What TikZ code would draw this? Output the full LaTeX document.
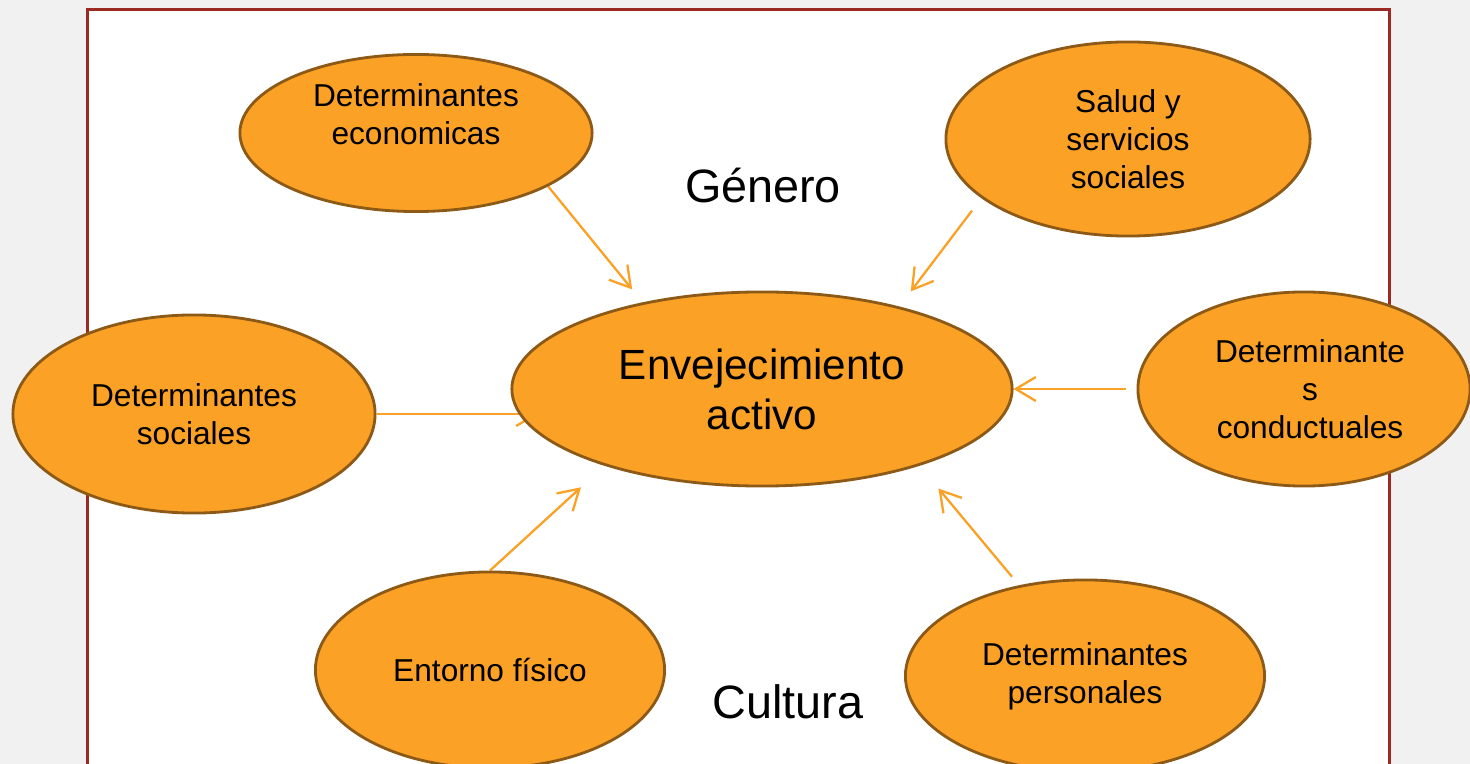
\documentclass[tikz,border=0pt]{standalone}
\usepackage{fontspec}
\setmainfont{Liberation Sans}
\usepackage{xcolor}
\usepackage{tikz}
\usetikzlibrary{positioning,shapes.geometric,arrows.meta}

\definecolor{paper}{HTML}{F1F1F1}
\definecolor{frame}{HTML}{9B2B22}
\definecolor{bubblefill}{HTML}{FAA126}
\definecolor{bubbleedge}{HTML}{8C5A16}

\pgfdeclarelayer{back}
\pgfdeclarelayer{links}
\pgfsetlayers{back,links,main}

\tikzset{
	bubble/.style={ellipse,fill=bubblefill,draw=bubbleedge,line width=0.8pt,inner sep=0pt,align=center,font=\fontsize{9}{10.8}\selectfont},
	link/.style={draw=bubblefill,line width=0.65pt,-{Straight Barb[length=0.2cm,width=0.24cm]}},
	word/.style={font=\fontsize{13.3}{16}\selectfont},
}

\begin{document}
\begin{tikzpicture}[x=0.01cm,y=-0.01cm]
		\useasboundingbox (0,0) rectangle (1470,764);
		\clip (0,0) rectangle (1470,764);
		\begin{pgfonlayer}{back}
			\fill[paper] (0,0) rectangle (1470,764);
			\draw[frame,fill=white,line width=0.03cm] (87,10) rectangle (1389,800);
		\end{pgfonlayer}

		\node[bubble,minimum width=5cm,minimum height=1.94cm,font=\fontsize{12}{14.2}\selectfont] (activo) at (762,389) {Envejecimiento\\activo};
		\node[bubble,minimum width=3.52cm,minimum height=1.57cm] (economicas) at (416,133) {Determinantes\\economicas\\\mbox{}};
		\node[bubble,minimum width=3.64cm,minimum height=1.94cm] (salud) at (1128,139) {Salud y\\servicios\\sociales};
		\node[bubble,minimum width=3.62cm,minimum height=1.98cm] (sociales) at (194,414) {Determinantes\\sociales};
		\node[bubble,minimum width=3.32cm,minimum height=1.94cm] (conductuales) at (1304,389) {\hspace*{0.12cm}Determinante\\\hspace*{0.12cm}s\\\hspace*{0.12cm}conductuales};
		\node[bubble,minimum width=3.49cm,minimum height=1.96cm] (entorno) at (490,670) {Entorno físico};
		\node[bubble,minimum width=3.59cm,minimum height=1.92cm] (personales) at (1085,676) {Determinantes\\personales};

		\node[word] (genero) at (763,186) {Género};
		\node[word] (cultura) at (788,702) {Cultura};

		\begin{pgfonlayer}{links}
			\draw[link,shorten >=0.167cm] (economicas.-22.7) -- (activo.144.4);
			\draw[link,shorten <=0.156cm,shorten >=0.189cm] (salud.202.8) -- (activo.31.8);
			\draw[link,shorten >=-0.28cm] (sociales.east) -- (sociales.east -| activo.west);
			\draw[link,shorten <=0.11cm] (conductuales.west) -- (activo.east);
			\draw[link,shorten >=0.319cm] (entorno.north) -- (activo.206.6);
			\draw[link,shorten <=0.11cm,shorten >=0.296cm] (personales.126.5) -- (activo.334.9);
		\end{pgfonlayer}
	\end{tikzpicture}
\end{document}
